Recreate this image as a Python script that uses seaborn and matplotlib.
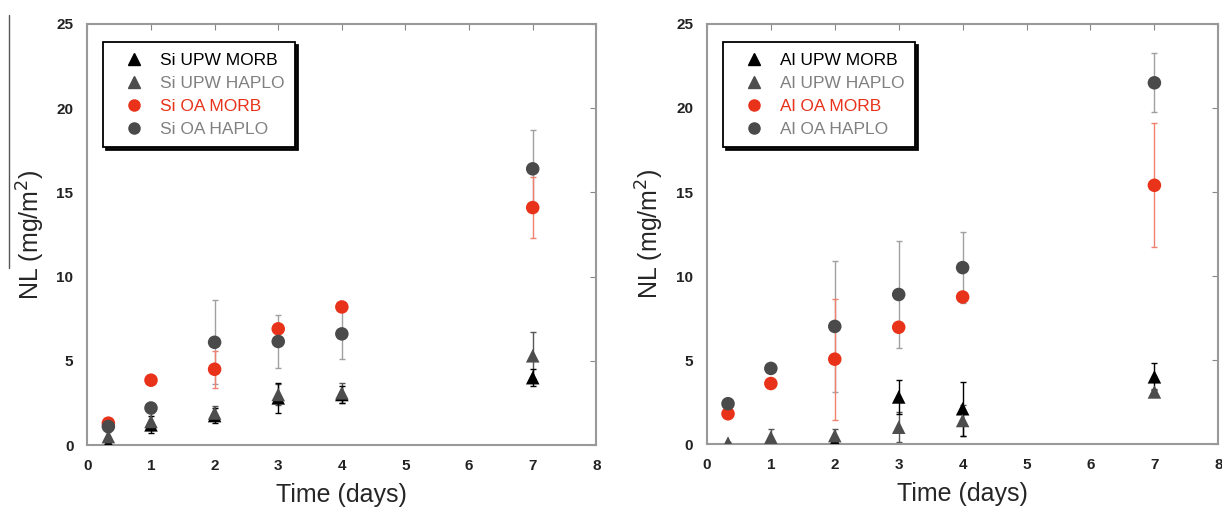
import numpy as np
import pandas as pd
import matplotlib
matplotlib.use('Agg')
import matplotlib.pyplot as plt
import seaborn as sns
from matplotlib.lines import Line2D

# time points (days)
days = [0.33, 1, 2, 3, 4, 7]

# Si release (mg/m2) and error bars
si_upw_morb = [0.1, 1.2, 1.75, 2.8, 3.0, 4.0]
si_upw_morb_err = [0.1, 0.5, 0.45, 0.9, 0.5, 0.5]
si_upw_haplo = [0.5, 1.4, 1.9, 3.0, 3.1, 5.3]
si_upw_haplo_err = [0.3, 0.5, 0.4, 0.6, 0.6, 1.4]
si_oa_morb = [1.3, 3.85, 4.5, 6.9, 8.2, 14.1]
si_oa_morb_err = [0.1, 0.15, 1.1, 0.2, 0.2, 1.8]
si_oa_haplo = [1.1, 2.2, 6.1, 6.15, 6.6, 16.4]
si_oa_haplo_err = [0.2, 0.2, 2.5, 1.6, 1.5, 2.3]

# Al release (mg/m2) and error bars
al_upw_morb = [0.0, 0.05, 0.15, 2.8, 2.1, 4.0]
al_upw_morb_err = [0.0, 0.1, 0.2, 1.0, 1.6, 0.8]
al_upw_haplo = [0.05, 0.4, 0.5, 1.0, 1.4, 3.1]
al_upw_haplo_err = [0.05, 0.5, 0.4, 0.9, 0.9, 0.2]
al_oa_morb = [1.8, 3.6, 5.05, 6.95, 8.75, 15.4]
al_oa_morb_err = [0.1, 0.1, 3.6, 0.2, 0.2, 3.7]
al_oa_haplo = [2.4, 4.5, 7.0, 8.9, 10.5, 21.5]
al_oa_haplo_err = [0.1, 0.1, 3.9, 3.2, 2.1, 1.75]

series_names = ['UPW MORB', 'UPW HAPLO', 'OA MORB', 'OA HAPLO']
colors = {'UPW MORB': '#000000', 'UPW HAPLO': '#4d4d4d',
          'OA MORB': '#e8321a', 'OA HAPLO': '#4a4a4a'}
err_colors = {'UPW MORB': '#000000', 'UPW HAPLO': '#555555',
              'OA MORB': '#f08070', 'OA HAPLO': '#a0a0a0'}
text_colors = {'UPW MORB': '#000000', 'UPW HAPLO': '#808080',
               'OA MORB': '#e8321a', 'OA HAPLO': '#808080'}
markers = {'UPW MORB': '^', 'UPW HAPLO': '^', 'OA MORB': 'o', 'OA HAPLO': 'o'}


def make_df(vals, errs):
    rows = []
    for name, v, e in zip(series_names, vals, errs):
        for t, y, ee in zip(days, v, e):
            rows.append({'day': t, 'NL': y, 'err': ee, 'series': name})
    return pd.DataFrame(rows)


si_df = make_df([si_upw_morb, si_upw_haplo, si_oa_morb, si_oa_haplo],
                [si_upw_morb_err, si_upw_haplo_err, si_oa_morb_err, si_oa_haplo_err])
al_df = make_df([al_upw_morb, al_upw_haplo, al_oa_morb, al_oa_haplo],
                [al_upw_morb_err, al_upw_haplo_err, al_oa_morb_err, al_oa_haplo_err])

sns.set_style('white')
plt.rcParams['font.family'] = ['Liberation Sans', 'DejaVu Sans']

fig = plt.figure(figsize=(12.22, 5.16), dpi=100)
ax1 = fig.add_axes([0.0715, 0.1375, 0.4165, 0.8160])
ax2 = fig.add_axes([0.5785, 0.1395, 0.4185, 0.8140])


def draw(ax, df, elem):
    # error bars first, drawn behind the markers
    for name in ['OA HAPLO', 'OA MORB', 'UPW HAPLO', 'UPW MORB']:
        d = df[df['series'] == name]
        ax.errorbar(d['day'], d['NL'], yerr=d['err'], fmt='none',
                    ecolor=err_colors[name], elinewidth=1.0, capsize=2.5,
                    capthick=1.0, zorder=1)
    sns.scatterplot(data=df, x='day', y='NL', hue='series', style='series',
                    palette=colors, markers=markers, s=95, edgecolor='none',
                    hue_order=series_names[::-1], style_order=series_names[::-1],
                    legend=False, ax=ax, zorder=3)
    ax.set_xlim(0, 8)
    ax.set_ylim(0, 25)
    ax.set_xticks(range(0, 9))
    ax.set_yticks(range(0, 26, 5))
    ax.tick_params(direction='in', length=4, width=0.8, color='#888888',
                   top=True, right=True, labelsize=11, pad=10)
    for lab in ax.get_xticklabels() + ax.get_yticklabels():
        lab.set_fontweight('bold')
        lab.set_color('#222222')
    for sp in ax.spines.values():
        sp.set_color('#999999')
        sp.set_linewidth(1.5)
    ax.set_xlabel('Time (days)', fontsize=18, labelpad=7)
    ax.set_ylabel('NL (mg/m$^2$)', fontsize=18, labelpad=7)

    handles = [Line2D([], [], linestyle='none', marker=markers[n],
                      color=colors[n], markersize=8) for n in series_names]
    leg = ax.legend(handles, [f'{elem} {n}' for n in series_names],
                    loc='upper left', bbox_to_anchor=(0.014, 0.977),
                    fontsize=12.5, frameon=True, fancybox=False,
                    shadow={'color': 'black', 'alpha': 0.95},
                    edgecolor='black', handletextpad=0.3, borderpad=0.6,
                    labelspacing=0.45, handlelength=2.4)
    leg.get_frame().set_linewidth(1.3)
    for txt, n in zip(leg.get_texts(), series_names):
        txt.set_color(text_colors[n])


draw(ax1, si_df, 'Si')
draw(ax2, al_df, 'Al')

# thin scan line at the left edge of the original figure
fig.add_artist(Line2D([0.0075, 0.0075], [0.48, 0.97], color='#555555', linewidth=1.0))

fig.savefig('out.png', dpi=100)
